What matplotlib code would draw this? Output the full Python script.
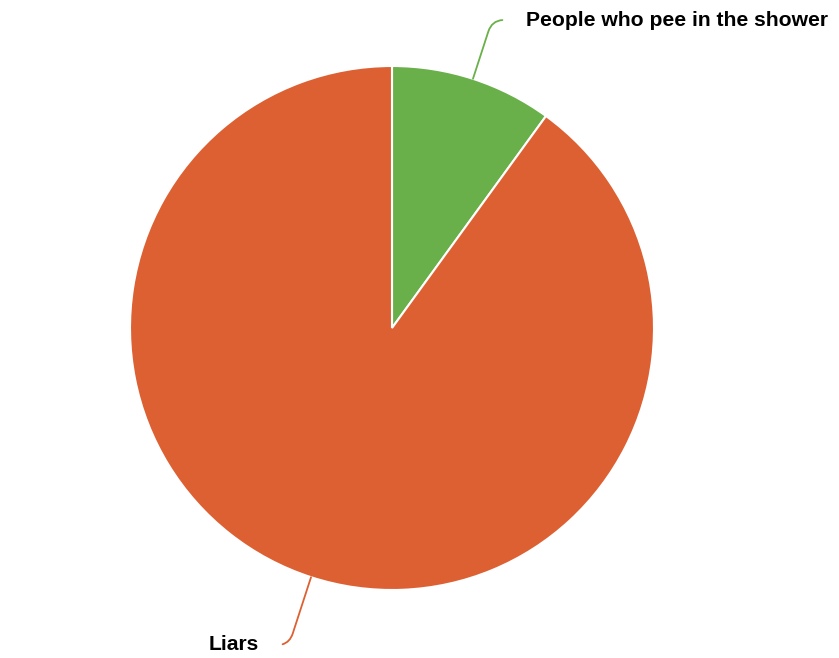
#!/usr/bin/env python
# -*- coding: utf-8 -*-
"""
Pie chart: people who pee in the shower vs liars
"""

import numpy as np
import matplotlib.pyplot as plt

plt.rcParams['font.family'] = ['Liberation Sans', 'DejaVu Sans']

# Dados
labels = ['People who pee in the shower', 'Liars']
shares = [10, 90]
colors = ['#6AB04A', '#DD6032']

W, H = 839, 658


def main():
    fig = plt.figure(figsize=(W / 100, H / 100), dpi=100)
    ax = fig.add_axes([0, 0, 1, 1])

    center = (392, H - 328)
    radius = 262

    wedges, _ = ax.pie(shares, colors=colors, startangle=90, counterclock=False,
                       center=center, radius=radius, frame=True,
                       wedgeprops=dict(edgecolor='white', linewidth=1.5))
    ax.set_xlim(0, W)
    ax.set_ylim(0, H)
    ax.set_aspect('equal')
    ax.axis('off')

    # rótulos com linhas de chamada
    text_pos = [(526, H - 20, 'left', (0, 0.5)), (259, H - 645, 'right', (1, 0.5))]
    for w, lab, col, (tx, ty, ha, rp) in zip(wedges, labels, colors, text_pos):
        ang = np.deg2rad((w.theta1 + w.theta2) / 2)
        xy = (center[0] + radius * np.cos(ang), center[1] + radius * np.sin(ang))
        angB = np.rad2deg(ang) % 180
        ax.annotate(lab, xy=xy, xytext=(tx, ty), ha=ha, va='center',
                    fontsize=15.2, fontweight='bold', color='black',
                    arrowprops=dict(arrowstyle='-', color=col, lw=1.3,
                                    shrinkA=15, shrinkB=0, relpos=rp,
                                    connectionstyle=f'angle,angleA=0,angleB={angB:.1f},rad=12'))

    plt.savefig('out.png', dpi=100)


if __name__ == "__main__":
    main()
